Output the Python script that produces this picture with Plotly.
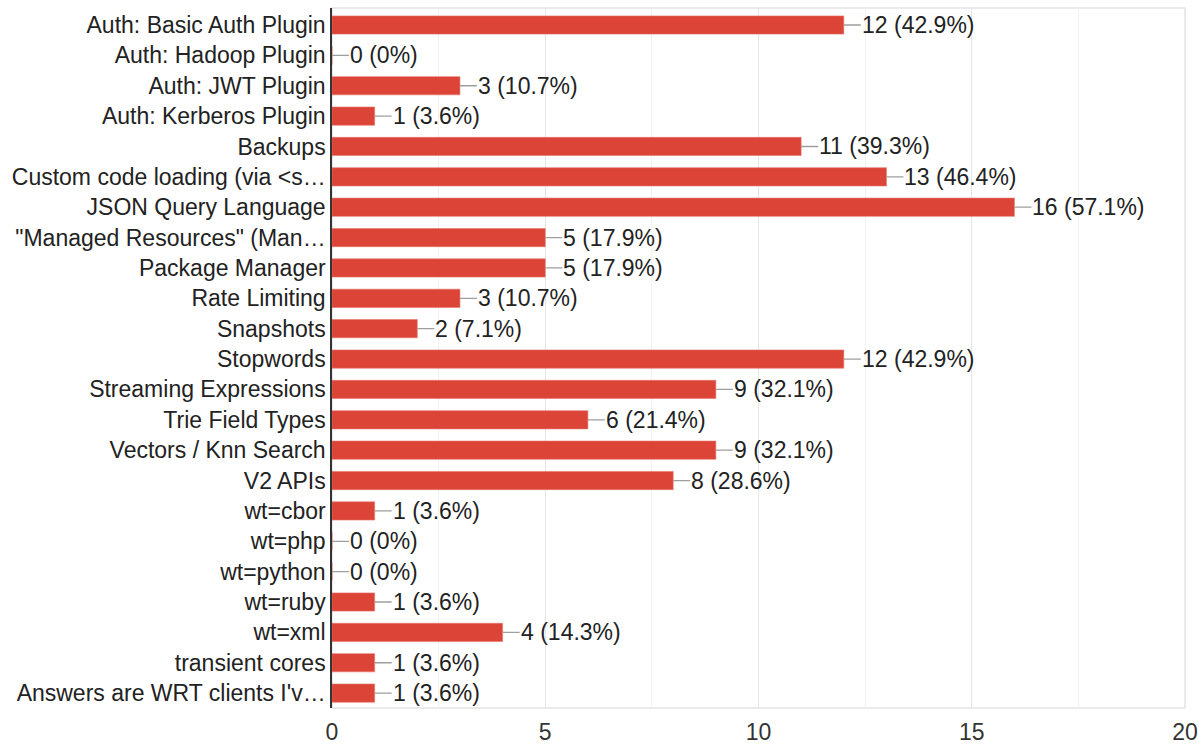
import plotly.graph_objects as go

categories = [
    "Auth: Basic Auth Plugin", "Auth: Hadoop Plugin", "Auth: JWT Plugin",
    "Auth: Kerberos Plugin", "Backups", "Custom code loading (via &lt;s…",
    "JSON Query Language", "\"Managed Resources\" (Man…", "Package Manager",
    "Rate Limiting", "Snapshots", "Stopwords", "Streaming Expressions",
    "Trie Field Types", "Vectors / Knn Search", "V2 APIs", "wt=cbor",
    "wt=php", "wt=python", "wt=ruby", "wt=xml", "transient cores",
    "Answers are WRT clients I'v…",
]
counts = [12, 0, 3, 1, 11, 13, 16, 5, 5, 3, 2, 12, 9, 6, 9, 8, 1, 0, 0, 1, 4, 1, 1]
percents = ["42.9%", "0%", "10.7%", "3.6%", "39.3%", "46.4%", "57.1%", "17.9%",
            "17.9%", "10.7%", "7.1%", "42.9%", "32.1%", "21.4%", "32.1%", "28.6%",
            "3.6%", "0%", "0%", "3.6%", "14.3%", "3.6%", "3.6%"]
x_ticks = [0, 5, 10, 15, 20]

FONT = "Liberation Sans, Arial, Helvetica, sans-serif"
FS = 23

fig = go.Figure()
fig.add_trace(go.Bar(
    x=counts, y=categories, orientation="h",
    marker=dict(color="#DB4437", line=dict(color="#E8736A", width=0.6)),
    hoverinfo="x+y",
))

annotations = []
for c, cat, p in zip(counts, categories, percents):
    annotations.append(dict(
        x=c, y=cat, xref="x", yref="y",
        text=f"{c} ({p})", showarrow=True, arrowhead=0, arrowwidth=1.3,
        arrowcolor="#9e9e9e", ax=17, ay=0, axref="pixel", ayref="pixel",
        xanchor="left", yanchor="middle", borderpad=0,
        font=dict(family=FONT, size=FS, color="#222222"),
    ))

fig.update_layout(
    width=1199, height=746,
    margin=dict(l=332, r=14, t=8, b=38),
    paper_bgcolor="white", plot_bgcolor="white",
    bargap=0.4, showlegend=False,
    font=dict(family=FONT, size=FS, color="#222222"),
    annotations=annotations,
    shapes=[dict(type="rect", xref="paper", yref="paper", x0=0, x1=1, y0=0, y1=1,
                 line=dict(color="#e3e3e3", width=1.5), layer="below")],
)
fig.update_xaxes(
    range=[0, 20], tickvals=x_ticks, showgrid=True, gridcolor="#e6e6e6", gridwidth=1,
    minor=dict(dtick=2.5, showgrid=True, gridcolor="#f2f2f2", gridwidth=1),
    zeroline=False, ticks="outside", ticklen=3, tickcolor="rgba(0,0,0,0)",
    tickfont=dict(family=FONT, size=FS, color="#333333"), fixedrange=True,
    automargin=False,
)
fig.update_yaxes(
    range=[len(categories) - 0.51, -0.56], showline=True, linecolor="#333333",
    linewidth=1.5, showgrid=False, ticks="", ticklabelstandoff=0, automargin=False,
    tickfont=dict(family=FONT, size=FS, color="#222222"),
)

fig.write_html(
    "out.html",
    config={"displayModeBar": False},
    post_script="document.body.style.margin='0';document.body.style.overflow='hidden';",
)
